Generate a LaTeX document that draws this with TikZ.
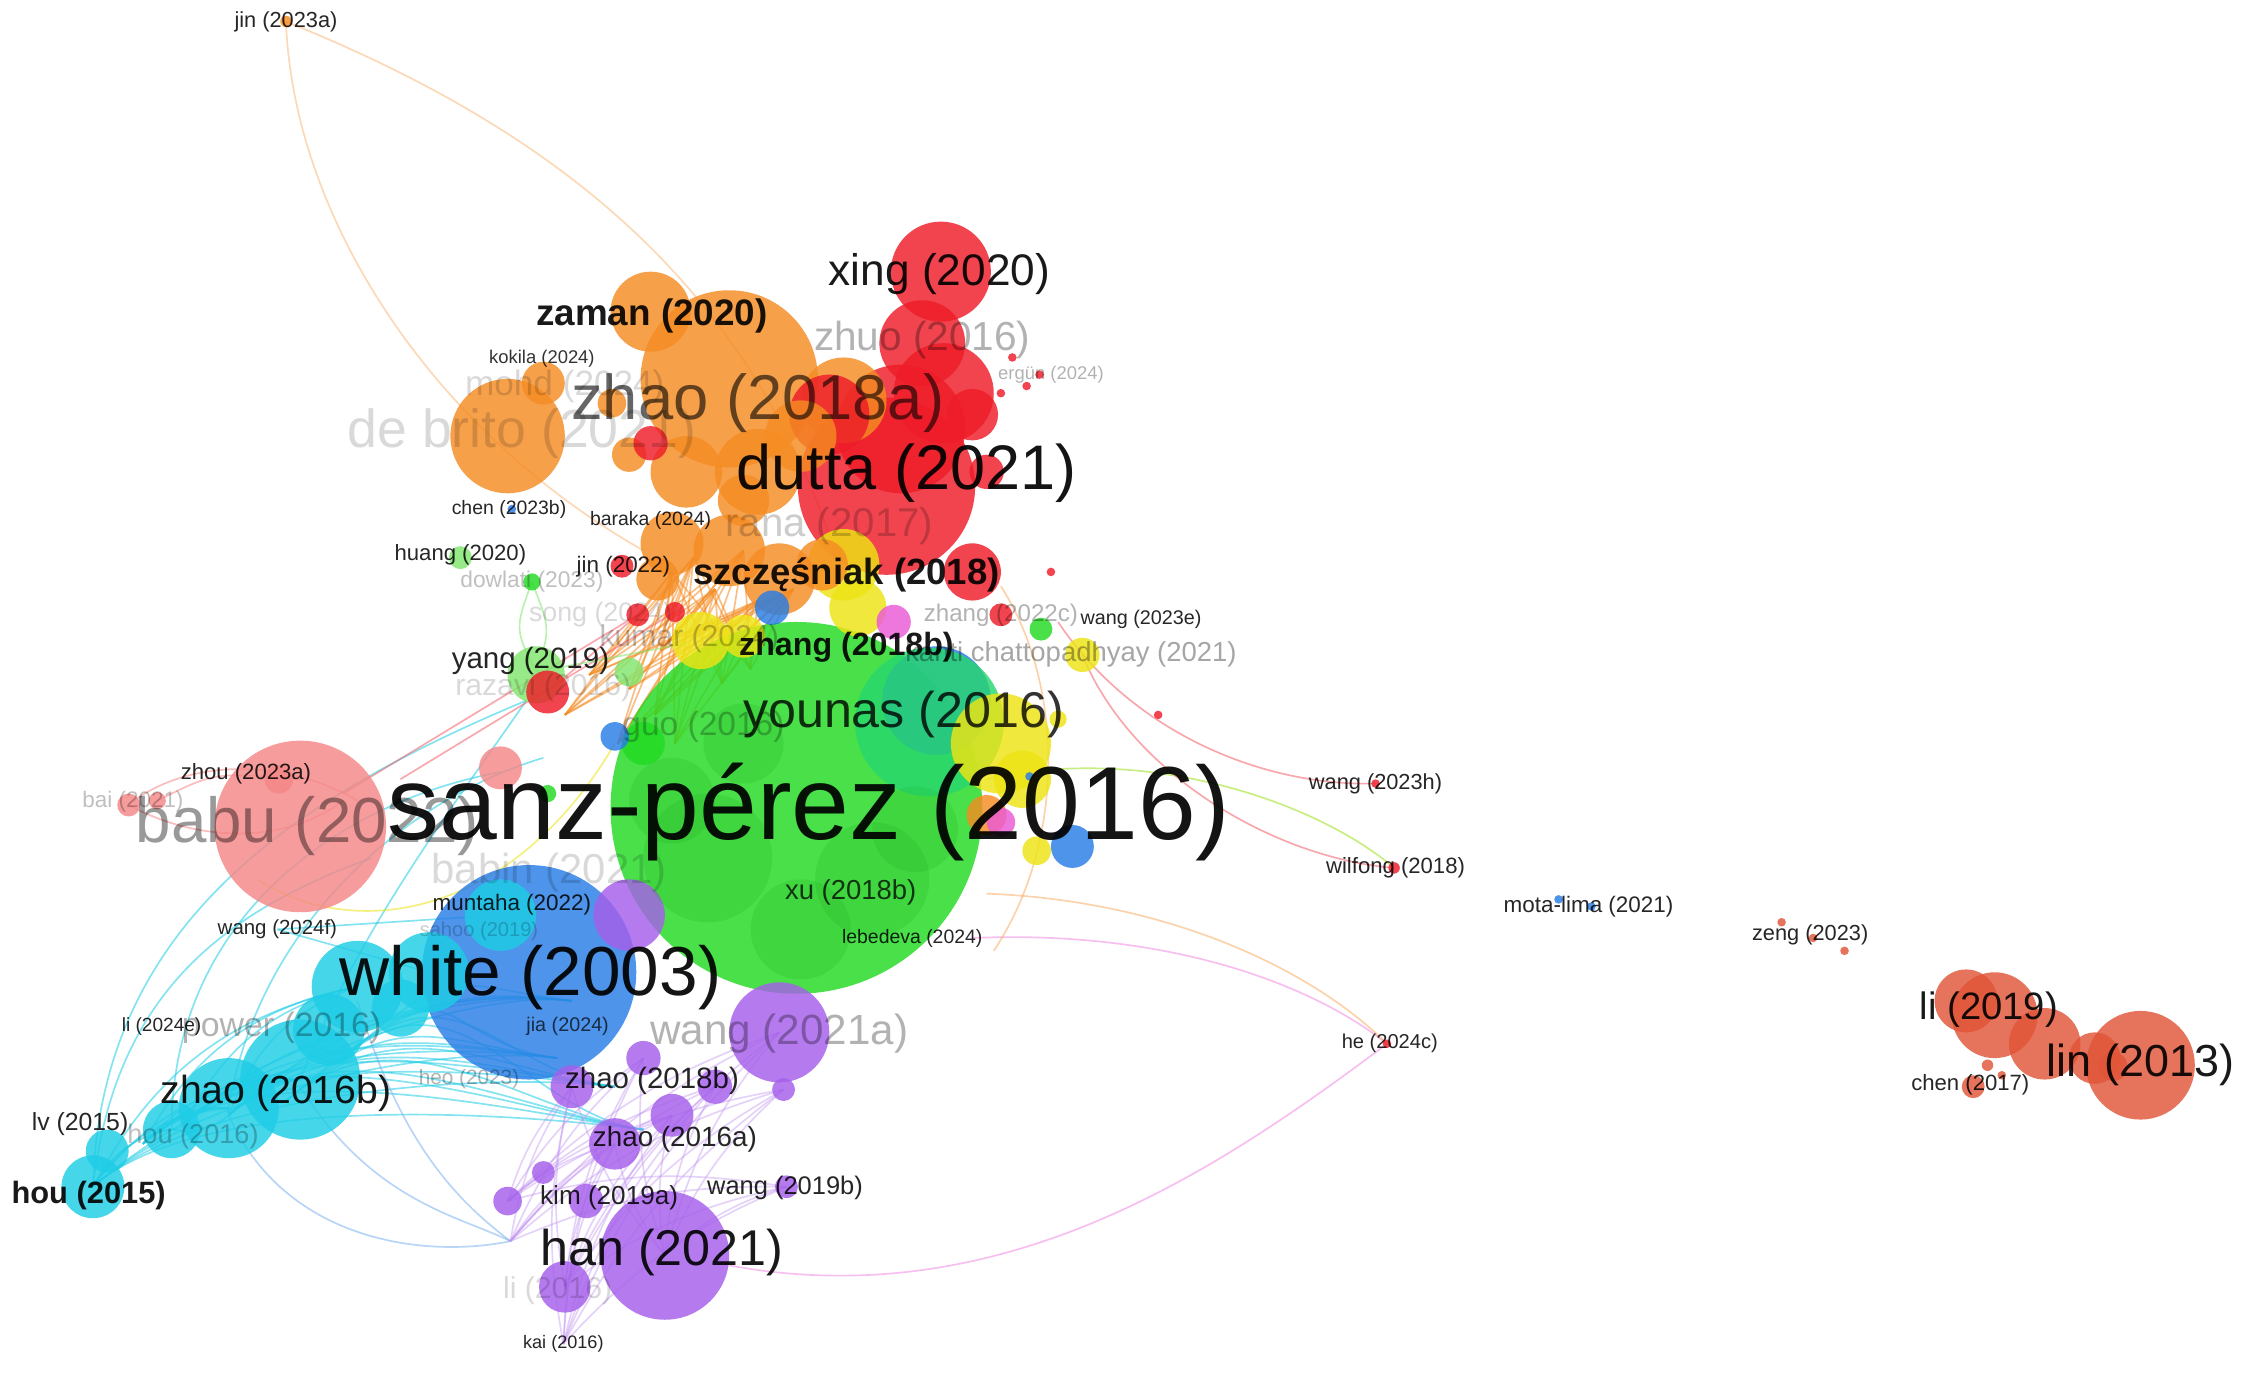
\documentclass[tikz,border=0pt]{standalone}
\usepackage{fontspec}
\setmainfont{Liberation Sans}
\usetikzlibrary{calc}
\definecolor{vred}{RGB}{238,28,40}
\definecolor{vgreen}{RGB}{34,218,34}
\definecolor{vteal}{RGB}{40,215,110}
\definecolor{vblue}{RGB}{40,125,230}
\definecolor{vyellow}{RGB}{238,228,20}
\definecolor{vpurple}{RGB}{165,95,235}
\definecolor{vcyan}{RGB}{30,205,230}
\definecolor{vorange}{RGB}{245,140,35}
\definecolor{vsalmon}{RGB}{245,135,135}
\definecolor{vpink}{RGB}{235,90,215}
\definecolor{vrust}{RGB}{225,85,55}
\definecolor{vlgreen}{RGB}{130,230,110}
\tikzset{
  edge/.style={line width=0.5pt, draw opacity=0.55},
  bub/.style={fill opacity=0.82},
}
\newcommand{\lbl}[6]{\node[inner sep=0pt, text=black, text opacity=#5, font=\fontsize{#4}{#4}\selectfont] (#1) at (#2,#3) {#6};}
\begin{document}
\begin{tikzpicture}[x=0.015cm,y=-0.015cm]
\fill[white] (0,0) rectangle (1568,960);
\useasboundingbox (0,0) rectangle (1568,960);

% ---------------- edges ----------------
\foreach \ax/\ay in {470/400,500/412,530/420,555/412,485/390,520/385}
  \foreach \bx/\by in {440/482,458/500,472/520,432/520,412/472,505/478,525/468,462/455,395/500}
    \draw[edge,vorange] (\ax,\ay) -- (\bx,\by);
\foreach \ax/\ay in {65/830,100/800,130/785,160/780,200/770,240/740}
  \foreach \bx/\by in {390/740,430/760,400/700,450/790}
    \draw[edge,vcyan] (\ax,\ay) .. controls ($(\ax,\ay)+(80,-70)$) and ($(\bx,\by)+(-80,-10)$) .. (\bx,\by);
\foreach \ax/\ay in {65/830,100/800,130/785,160/780}
  \foreach \bx/\by in {120/790,160/775,210/755,250/690}
    \draw[edge,vcyan] (\ax,\ay) to[bend left=25] (\bx,\by);
\draw[edge,vcyan] (65,830) .. controls (70,650) and (200,560) .. (368,490);
\draw[edge,vcyan] (120,790) .. controls (120,640) and (240,560) .. (350,540);
\draw[edge,vcyan] (160,775) .. controls (180,650) and (280,560) .. (380,530);
\draw[edge,vcyan] (65,830) .. controls (80,700) and (150,640) .. (260,600);
\draw[edge,vcyan] (210,755) .. controls (250,650) and (320,560) .. (368,490);
\draw[edge,vcyan] (194,650) -- (300,680);
\draw[edge,vcyan] (194,650) -- (350,640);
\draw[edge,vblue!60] (160,780) .. controls (200,870) and (300,880) .. (357,868);
\draw[edge,vblue!60] (210,760) .. controls (260,840) and (320,850) .. (357,868);
\draw[edge,vblue!60] (250,700) .. controls (280,800) and (320,840) .. (357,868);
\foreach \ax/\ay in {357/868,395/900,394/940,465/878,355/840}
  \foreach \bx/\by in {400/760,430/800,470/780,500/760,545/722,450/740,550/830,548/762}
    \draw[edge,vpurple!70,draw opacity=0.4] (\ax,\ay) to[bend left=12] (\bx,\by);
\draw[edge,vpink!70] (510,885) .. controls (700,920) and (850,820) .. (970,730);
\draw[edge,vpink!70] (680,656) .. controls (820,650) and (920,690) .. (970,730);
\draw[edge,vorange!70] (690,625) .. controls (820,630) and (920,680) .. (970,730);
\draw[edge,vyellow!60!vgreen] (690,545) .. controls (800,520) and (920,560) .. (975,607);
\draw[edge,vred!70] (740,435) .. controls (790,510) and (880,550) .. (962,548);
\draw[edge,vred!70] (757,458) .. controls (790,540) and (890,600) .. (975,607);
\draw[edge,vorange!70] (700,410) .. controls (745,480) and (745,590) .. (695,665);
\draw[edge,vorange!60] (200,15) .. controls (205,150) and (300,300) .. (450,385);
\draw[edge,vorange!60] (200,15) .. controls (360,80) and (520,180) .. (585,390);
\draw[edge,vred!70] (472,428) -- (280,545);
\draw[edge,vred!70] (446,430) .. controls (380,470) .. (240,555);
\draw[edge,vred!70] (446,430) -- (383,484);
\draw[edge,vlgreen] (372,407) .. controls (360,440) .. (375,470);
\draw[edge,vlgreen] (372,407) .. controls (385,440) .. (375,470);
\draw[edge,vlgreen] (375,470) -- (480,450);
\draw[edge,vsalmon] (90,563) .. controls (130,530) and (200,530) .. (250,560);
\draw[edge,vsalmon] (90,563) .. controls (140,590) and (200,590) .. (240,560);
\draw[edge,vsalmon] (110,560) .. controls (150,540) .. (210,545);
\draw[edge,vyellow] (180,615) .. controls (250,660) and (360,640) .. (430,520);

% ---------------- circles ----------------
\foreach \x/\y/\r/\c in {
 557/565/130/vgreen, 370/680/75/vblue, 210/578/60/vsalmon, 510/265/62/vorange,
 620/340/62/vred, 655/490/38/vblue, 650/505/52/vteal, 465/878/45/vpurple,
 630/300/45/vred, 355/305/40/vorange, 210/755/42/vcyan, 658/190/35/vred,
 545/722/35/vpurple, 700/520/35/vyellow, 1497/745/38/vrust, 660/275/35/vred,
 160/775/35/vcyan, 250/690/32/vcyan, 645/240/30/vred, 455/218/28/vorange,
 1395/710/30/vrust, 590/280/30/vorange, 530/330/30/vorange, 300/680/28/vcyan,
 440/640/25/vpurple, 580/290/28/vred, 1430/730/25/vrust, 590/395/25/vyellow,
 480/330/25/vorange, 510/385/25/vorange, 545/405/25/vorange, 560/305/25/vorange,
 230/720/25/vcyan, 350/640/25/vcyan, 1375/700/22/vrust, 65/830/22/vcyan,
 470/380/22/vorange, 680/400/20/vred, 600/425/20/vyellow, 490/448/20/vyellow,
 715/545/20/vyellow, 375/472/20/vlgreen, 120/790/20/vcyan, 280/705/20/vcyan,
 680/290/18/vred, 575/395/18/vorange, 520/350/18/vorange, 395/900/18/vpurple,
 430/800/18/vpurple, 1465/740/18/vrust, 383/484/15/vred, 750/592/15/vblue,
 350/537/15/vsalmon, 520/445/15/vyellow, 380/268/15/vorange, 690/570/14/vorange,
 400/760/15/vpurple, 470/780/15/vpurple, 75/805/15/vcyan, 460/405/15/vorange,
 450/520/15/vgreen, 440/318/12/vorange, 455/310/12/vred, 690/330/12/vred,
 540/425/12/vblue, 757/458/12/vyellow, 500/760/12/vpurple, 450/740/12/vpurple,
 410/840/12/vpurple, 625/435/12/vpink, 428/282/10/vorange, 430/515/10/vblue,
 440/470/10/vlgreen, 355/840/10/vpurple, 195/545/10/vsalmon, 700/575/10/vpink,
 725/595/10/vyellow, 1478/746/10/vrust, 435/396/8/vred, 446/430/8/vred,
 472/428/7/vred, 700/430/8/vred, 728/440/8/vgreen, 322/390/8/vlgreen,
 372/407/6/vgreen, 383/555/6/vgreen, 90/563/8/vsalmon, 110/560/6/vsalmon,
 550/830/8/vpurple, 548/762/8/vpurple, 380/820/8/vpurple, 1380/760/8/vrust,
 1390/745/4/vrust, 1400/752/3/vrust, 200/15/4/vorange, 708/250/3/vred,
 718/270/3/vred, 700/275/3/vred, 727/262/3/vred, 735/400/3/vred, 810/500/3/vred,
 962/548/3/vred, 975/607/4/vred, 970/730/3/vred, 1090/629/3/vblue,
 1113/634/3/vblue, 1246/645/3/vrust, 1268/656/3/vrust, 1290/665/3/vrust,
 358/356/3/vblue, 740/503/6/vyellow, 720/543/3/vblue}
  \fill[bub,\c] (\x,\y) circle[radius=\r*0.015cm];
% darker texture inside the big green
\foreach \x/\y/\r in {495/600/45,610/615/40,470/560/30,640/580/30,560/650/35,520/520/28}
  \fill[vgreen!80!black, fill opacity=0.18] (\x,\y) circle[radius=\r*0.015cm];

% ---------------- labels ----------------
\lbl{jinA}{200}{15}{6.5}{0.85}{jin (2023a)}
\lbl{xing}{657}{192}{13.2}{0.9}{xing (2020)}
\lbl{zaman}{456}{221}{11}{0.9}{\bfseries zaman (2020)}
\lbl{zhuo}{645}{238}{12.1}{0.3}{zhuo (2016)}
\lbl{ergun}{735}{262}{5.5}{0.3}{ergün (2024)}
\lbl{zhaoA}{530}{282}{18.9}{0.6}{zhao (2018a)}
\lbl{debrito}{365}{303}{16}{0.15}{de brito (2021)}
\lbl{mohd}{395}{270}{10.5}{0.15}{mohd (2024)}
\lbl{kokila}{379}{251}{5.5}{0.8}{kokila (2024)}
\lbl{dutta}{634}{331}{18.8}{0.92}{dutta (2021)}
\lbl{chenB}{356}{356}{5.8}{0.85}{chen (2023b)}
\lbl{baraka}{455}{364}{5.8}{0.85}{baraka (2024)}
\lbl{rana}{580}{368}{12}{0.2}{rana (2017)}
\lbl{huang}{322}{388}{6.6}{0.85}{huang (2020)}
\lbl{jinB}{436}{396}{6.7}{0.85}{jin (2022)}
\lbl{dowlati}{372}{407}{6.8}{0.25}{dowlati (2023)}
\lbl{szcz}{592}{402}{10.9}{0.9}{\bfseries szczęśniak (2018)}
\lbl{wangE}{798}{433}{5.9}{0.85}{wang (2023e)}
\lbl{zhangC}{700}{430}{7.2}{0.3}{zhang (2022c)}
\lbl{song}{420}{430}{8}{0.15}{song (2024)}
\lbl{kumar}{482}{447}{9}{0.25}{kumar (2024)}
\lbl{yang}{371}{462}{8.8}{0.85}{yang (2019)}
\lbl{razavi}{380}{481}{9}{0.15}{razavi (2016)}
\lbl{zhangB}{592}{453}{9.6}{0.9}{\bfseries zhang (2018b)}
\lbl{kanti}{749}{458}{8.2}{0.35}{kanti chattopadhyay (2021)}
\lbl{younas}{632}{500}{15}{0.8}{younas (2016)}
\lbl{guo}{492}{508}{10}{0.25}{guo (2016)}
\lbl{zhouA}{172}{541}{6.6}{0.85}{zhou (2023a)}
\lbl{bai}{93}{561}{6.7}{0.25}{bai (2021)}
\lbl{babu}{215}{578}{19}{0.4}{babu (2022)}
\lbl{babin}{384}{610}{12.5}{0.15}{babin (2021)}
\lbl{sanz}{566}{568}{31}{0.92}{sanz-pérez (2016)}
\lbl{muntaha}{358}{633}{6.7}{0.85}{muntaha (2022)}
\lbl{sahoo}{335}{651}{6}{0.2}{sahoo (2019)}
\lbl{wangF}{194}{650}{6.1}{0.85}{wang (2024f)}
\lbl{xuB}{595}{624}{8.2}{0.75}{xu (2018b)}
\lbl{lebedeva}{638}{656}{5.8}{0.85}{lebedeva (2024)}
\lbl{white}{371}{684}{20.7}{0.92}{white (2003)}
\lbl{wangA}{545}{723}{12.6}{0.3}{wang (2021a)}
\lbl{power}{197}{719}{10.1}{0.3}{power (2016)}
\lbl{liE}{113}{718}{5.7}{0.85}{li (2024e)}
\lbl{jia}{397}{718}{5.9}{0.7}{jia (2024)}
\lbl{zhao16b}{193}{765}{11.7}{0.9}{zhao (2016b)}
\lbl{heo}{328}{755}{6.2}{0.3}{heo (2023)}
\lbl{zhao18b}{456}{756}{8.8}{0.85}{zhao (2018b)}
\lbl{lv}{56}{786}{7.4}{0.85}{lv (2015)}
\lbl{hou16}{135}{795}{8.1}{0.25}{hou (2016)}
\lbl{zhao16a}{472}{797}{8.3}{0.85}{zhao (2016a)}
\lbl{hou15}{62}{836}{9.2}{0.9}{\bfseries hou (2015)}
\lbl{kim}{426}{838}{7.8}{0.85}{kim (2019a)}
\lbl{wang19b}{549}{831}{7.6}{0.85}{wang (2019b)}
\lbl{han}{463}{876}{15}{0.9}{han (2021)}
\lbl{li16}{390}{903}{9}{0.15}{li (2016)}
\lbl{kai}{394}{940}{5.4}{0.85}{kai (2016)}
\lbl{wangH}{962}{548}{6.5}{0.85}{wang (2023h)}
\lbl{wilfong}{976}{607}{6.6}{0.85}{wilfong (2018)}
\lbl{mota}{1111}{634}{6.7}{0.85}{mota-lima (2021)}
\lbl{zeng}{1266}{654}{6.5}{0.85}{zeng (2023)}
\lbl{heC}{972}{730}{6}{0.85}{he (2024c)}
\lbl{li19}{1391}{706}{11.4}{0.9}{li (2019)}
\lbl{lin}{1497}{745}{13.4}{0.9}{lin (2013)}
\lbl{chen17}{1378}{759}{6.6}{0.85}{chen (2017)}
\end{tikzpicture}
\end{document}
